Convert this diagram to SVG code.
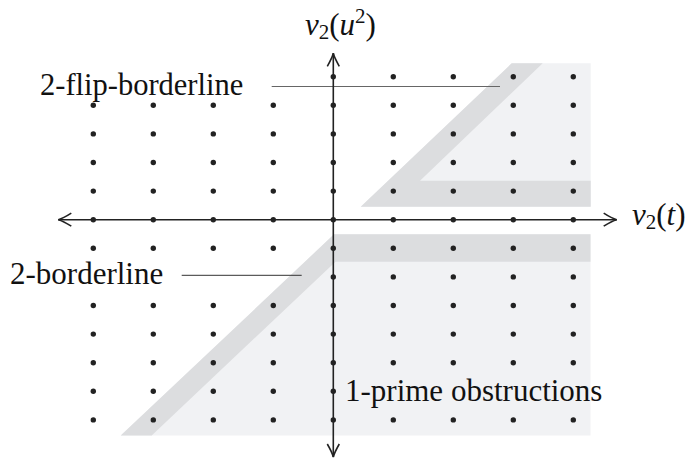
<svg xmlns="http://www.w3.org/2000/svg" width="690" height="459" viewBox="0 0 690 459">
<style>
.light{fill:#f1f2f4}
.dark{fill:#dcdddf}
.dot{fill:#222}
.axis{stroke:#222;stroke-width:1.6;fill:none}
.lead{stroke-width:1;fill:none}
</style>
<rect width="690" height="459" fill="#fff"/>
<g id="regions">
<g id="flip-region">
<polygon class="light" points="360.7,206.7 511.7,63.3 590.7,63.3 590.7,206.7"/>
<polygon class="dark" points="360.7,206.7 511.7,63.3 542.7,63.3 420,180.7 590.7,180.7 590.7,206.7"/>
</g>
<g id="prime-region">
<polygon class="light" points="120.7,435.5 334,234.3 590.5,234.3 590.5,435.5"/>
<polygon class="dark" points="120.7,435.5 334,234.3 590.5,234.3 590.5,261.7 335.5,261.7 151.7,435.5"/>
</g>
</g>
<g id="connectors">
<line class="lead" stroke="#666" x1="271.7" y1="86.5" x2="500" y2="86.5"/>
<line class="lead" stroke="#333" x1="181.7" y1="275.3" x2="301.7" y2="275.3"/>
</g>
<g id="dots" class="dot">
<g transform="translate(0,76.7)"><circle cx="333.3" r="2.7"/><circle cx="393.3" r="2.7"/><circle cx="453.3" r="2.7"/><circle cx="513.3" r="2.7"/><circle cx="573.3" r="2.7"/></g>
<g transform="translate(0,105.3)"><circle cx="93.3" r="2.7"/><circle cx="153.3" r="2.7"/><circle cx="213.3" r="2.7"/><circle cx="273.3" r="2.7"/><circle cx="333.3" r="2.7"/><circle cx="393.3" r="2.7"/><circle cx="453.3" r="2.7"/><circle cx="513.3" r="2.7"/><circle cx="573.3" r="2.7"/></g>
<g transform="translate(0,133.9)"><circle cx="93.3" r="2.7"/><circle cx="153.3" r="2.7"/><circle cx="213.3" r="2.7"/><circle cx="273.3" r="2.7"/><circle cx="333.3" r="2.7"/><circle cx="393.3" r="2.7"/><circle cx="453.3" r="2.7"/><circle cx="513.3" r="2.7"/><circle cx="573.3" r="2.7"/></g>
<g transform="translate(0,162.5)"><circle cx="93.3" r="2.7"/><circle cx="153.3" r="2.7"/><circle cx="213.3" r="2.7"/><circle cx="273.3" r="2.7"/><circle cx="333.3" r="2.7"/><circle cx="393.3" r="2.7"/><circle cx="453.3" r="2.7"/><circle cx="513.3" r="2.7"/><circle cx="573.3" r="2.7"/></g>
<g transform="translate(0,191.1)"><circle cx="93.3" r="2.7"/><circle cx="153.3" r="2.7"/><circle cx="213.3" r="2.7"/><circle cx="273.3" r="2.7"/><circle cx="333.3" r="2.7"/><circle cx="393.3" r="2.7"/><circle cx="453.3" r="2.7"/><circle cx="513.3" r="2.7"/><circle cx="573.3" r="2.7"/></g>
<g transform="translate(0,219.7)"><circle cx="93.3" r="2.7"/><circle cx="153.3" r="2.7"/><circle cx="213.3" r="2.7"/><circle cx="273.3" r="2.7"/><circle cx="333.3" r="2.7"/><circle cx="393.3" r="2.7"/><circle cx="453.3" r="2.7"/><circle cx="513.3" r="2.7"/><circle cx="573.3" r="2.7"/></g>
<g transform="translate(0,248.3)"><circle cx="93.3" r="2.7"/><circle cx="153.3" r="2.7"/><circle cx="213.3" r="2.7"/><circle cx="273.3" r="2.7"/><circle cx="333.3" r="2.7"/><circle cx="393.3" r="2.7"/><circle cx="453.3" r="2.7"/><circle cx="513.3" r="2.7"/><circle cx="573.3" r="2.7"/></g>
<g transform="translate(0,276.9)"><circle cx="333.3" r="2.7"/><circle cx="393.3" r="2.7"/><circle cx="453.3" r="2.7"/><circle cx="513.3" r="2.7"/><circle cx="573.3" r="2.7"/></g>
<g transform="translate(0,305.5)"><circle cx="93.3" r="2.7"/><circle cx="153.3" r="2.7"/><circle cx="213.3" r="2.7"/><circle cx="273.3" r="2.7"/><circle cx="333.3" r="2.7"/><circle cx="393.3" r="2.7"/><circle cx="453.3" r="2.7"/><circle cx="513.3" r="2.7"/><circle cx="573.3" r="2.7"/></g>
<g transform="translate(0,334.1)"><circle cx="93.3" r="2.7"/><circle cx="153.3" r="2.7"/><circle cx="213.3" r="2.7"/><circle cx="273.3" r="2.7"/><circle cx="333.3" r="2.7"/><circle cx="393.3" r="2.7"/><circle cx="453.3" r="2.7"/><circle cx="513.3" r="2.7"/><circle cx="573.3" r="2.7"/></g>
<g transform="translate(0,362.7)"><circle cx="93.3" r="2.7"/><circle cx="153.3" r="2.7"/><circle cx="213.3" r="2.7"/><circle cx="273.3" r="2.7"/><circle cx="333.3" r="2.7"/><circle cx="393.3" r="2.7"/><circle cx="453.3" r="2.7"/><circle cx="513.3" r="2.7"/><circle cx="573.3" r="2.7"/></g>
<g transform="translate(0,391.3)"><circle cx="93.3" r="2.7"/><circle cx="153.3" r="2.7"/><circle cx="213.3" r="2.7"/><circle cx="273.3" r="2.7"/><circle cx="333.3" r="2.7"/></g>
<g transform="translate(0,419.9)"><circle cx="93.3" r="2.7"/><circle cx="153.3" r="2.7"/><circle cx="213.3" r="2.7"/><circle cx="273.3" r="2.7"/><circle cx="333.3" r="2.7"/><circle cx="393.3" r="2.7"/><circle cx="453.3" r="2.7"/><circle cx="513.3" r="2.7"/><circle cx="573.3" r="2.7"/></g>
</g>
<g id="axes" class="axis">
<line x1="58.3" y1="219.7" x2="616.7" y2="219.7"/>
<line x1="333.3" y1="53.3" x2="333.3" y2="457"/>
<path d="M603.7,213.2 Q612,218.5 616.7,219.7 Q612,220.9 603.7,226.2"/>
<path d="M71.3,213.2 Q63,218.5 58.3,219.7 Q63,220.9 71.3,226.2"/>
<path d="M327.3,66.3 Q332.1,58 333.3,53.3 Q334.5,58 339.3,66.3"/>
<path d="M327.3,444 Q332.1,452.3 333.3,457 Q334.5,452.3 339.3,444"/>
</g>
<g id="labels" fill="#111">
<text id="y-label" x="305" y="35" font-family="Liberation Serif" font-size="31"><tspan font-style="italic">v</tspan><tspan font-size="21" dy="4">2</tspan><tspan dy="-4">(</tspan><tspan font-style="italic">u</tspan><tspan font-size="21" dy="-12">2</tspan><tspan dy="12">)</tspan></text>
<text id="x-label" x="632" y="225" font-family="Liberation Serif" font-size="31"><tspan font-style="italic">v</tspan><tspan font-size="21" dy="4">2</tspan><tspan dy="-4">(</tspan><tspan font-style="italic">t</tspan>)</text>
<text id="flip-label" x="40" y="94.5" font-family="Liberation Serif" font-size="30.5">2-flip-borderline</text>
<text id="border-label" x="10" y="284" font-family="Liberation Serif" font-size="31">2-borderline</text>
<text id="prime-label" x="345" y="400.5" font-family="Liberation Serif" font-size="31">1-prime obstructions</text>
</g>
</svg>
